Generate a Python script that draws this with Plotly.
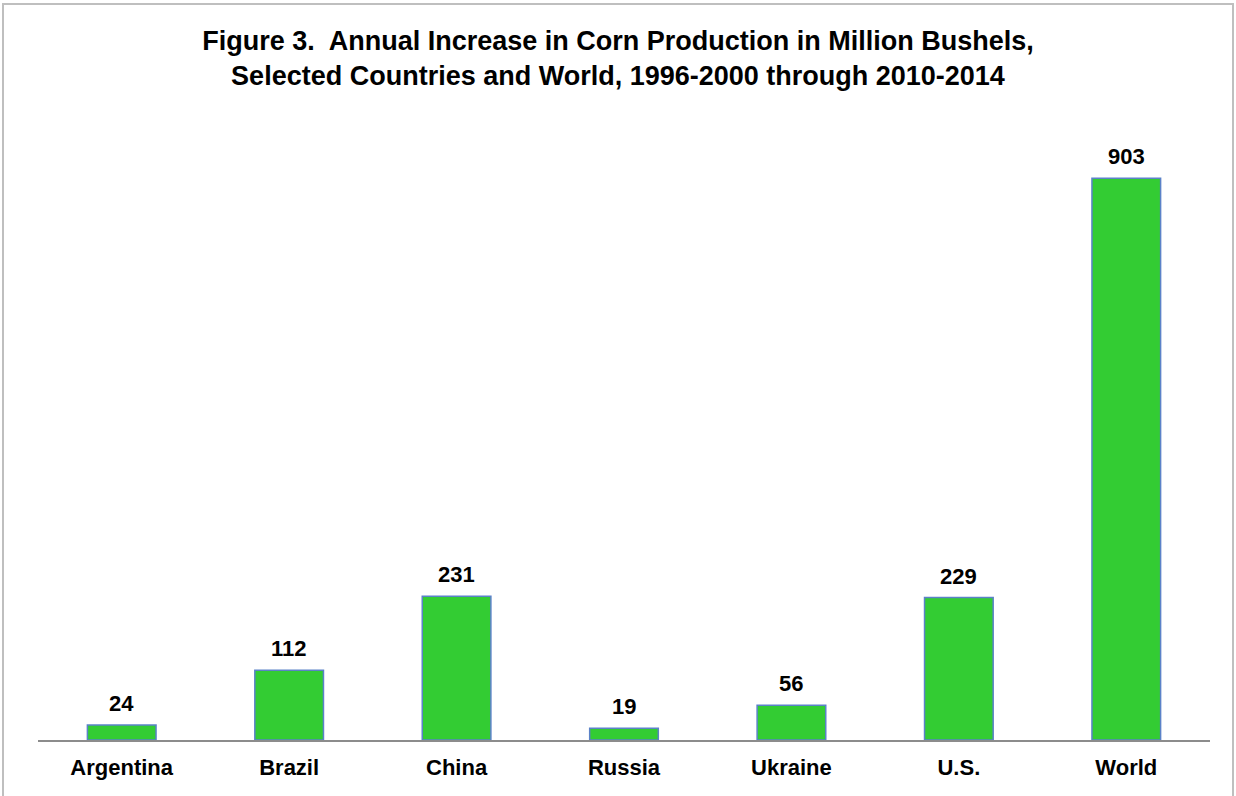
import plotly.graph_objects as go

countries = ["Argentina", "Brazil", "China", "Russia", "Ukraine", "U.S.", "World"]
increase = [24, 112, 231, 19, 56, 229, 903]

W, H = 1236, 796
L, R, T, B = 38, 26, 118, 56
pw, ph = W - L - R, H - T - B
FONT = "Liberation Sans, Arial"

fig = go.Figure()
fig.add_trace(go.Bar(
    x=countries, y=increase,
    marker=dict(color="#33CC33", line=dict(color="#5B82C8", width=1.5)),
    width=0.41,
    hoverinfo="skip",
))

for c, v in zip(countries, increase):
    fig.add_annotation(x=c, y=v, text=f"<b>{v}</b>", showarrow=False,
                       yanchor="bottom", yshift=7,
                       font=dict(family=FONT, size=22, color="black"))

def px2x(p):
    return (p - L) / pw

def py2y(p):
    return (H - B - p) / ph

fig.add_shape(type="rect", xref="paper", yref="paper",
              x0=px2x(3), x1=px2x(1233), y0=py2y(805), y1=py2y(4),
              line=dict(color="#BFBFBF", width=2), fillcolor="rgba(0,0,0,0)", layer="below")

fig.update_layout(
    width=W, height=H,
    margin=dict(l=L, r=R, t=T, b=B),
    paper_bgcolor="white", plot_bgcolor="white",
    showlegend=False,
    title=dict(
        text="<b>Figure 3.  Annual Increase in Corn Production in Million Bushels,<br>Selected Countries and World, 1996-2000 through 2010-2014</b>",
        x=0.5, xanchor="center", xref="container", y=1 - 50 / H, yanchor="middle", yref="container",
        font=dict(family=FONT, size=27, color="black"),
    ),
    xaxis=dict(showline=True, linecolor="#8C8C8C", linewidth=1.5, ticks="", showgrid=False,
               tickfont=dict(family=FONT, size=22, color="black"),
               ticklabelstandoff=7),
    yaxis=dict(range=[0, 1000], visible=False, showgrid=False, zeroline=False),
    font=dict(family=FONT),
)
fig.update_xaxes(tickprefix="<b>", ticksuffix="</b>")

fig.write_html("out.html", config={"displayModeBar": False},
               post_script="document.body.style.margin='0';")
